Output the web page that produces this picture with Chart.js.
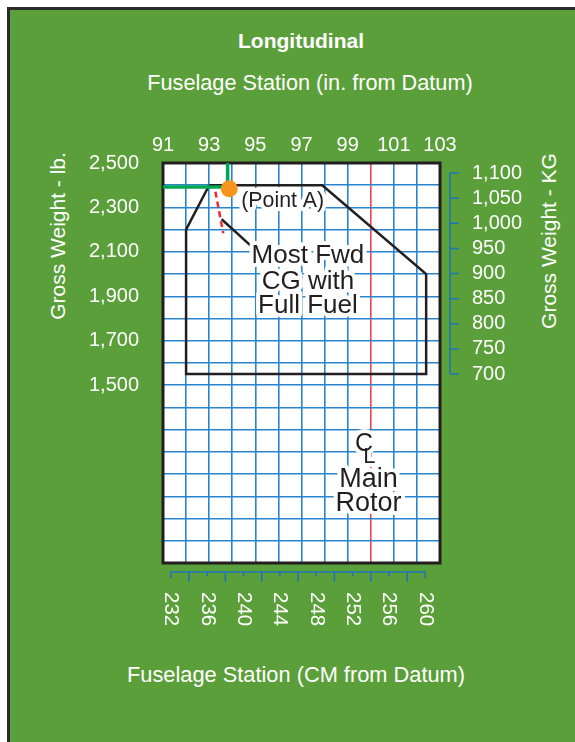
<!DOCTYPE html>
<html>
<head>
<meta charset="utf-8">
<script src="https://cdn.jsdelivr.net/npm/chart.js@4/dist/chart.umd.min.js"></script>
<style>
  html, body { margin: 0; padding: 0; background: #ffffff; }
  body { width: 575px; height: 742px; position: relative; overflow: hidden;
         font-family: 'Liberation Sans', Arial, sans-serif; }
  #panel { position: absolute; left: 7px; top: 7px; right: 0; bottom: 0;
           background: #5b9f3a; border-left: 3px solid #2b2b2b; border-top: 3px solid #2b2b2b; }
  .t { position: absolute; color: #ffffff; white-space: nowrap; line-height: 1;
       transform: translate(-50%, -50%); font-size: 21px; }
  .rot { transform: translate(-50%, -50%) rotate(-90deg); }
  #wrap { position: absolute; left: 0; top: 0; width: 575px; height: 742px; }
</style>
</head>
<body>
<div id="panel"></div>
<div class="t" style="left:301px;top:40px;font-weight:bold;font-size:21px;">Longitudinal</div>
<div class="t" style="left:310px;top:83px;font-size:21.7px;">Fuselage Station (in. from Datum)</div>
<div class="t rot" style="left:57px;top:236px;">Gross Weight - lb.</div>
<div class="t rot" style="left:548px;top:241px;">Gross Weight - KG</div>
<div class="t" style="left:296px;top:675px;font-size:21.8px;">Fuselage Station (CM from Datum)</div>
<div id="wrap"><canvas id="c"></canvas></div>

<script>
// Longitudinal CG envelope - inches on top, pounds left, kg right, cm bottom

// ---- data ----
var ENVELOPE_IN = [93.0, 97.9, 102.4, 102.4, 92.0, 92.0, 93.0];
var ENVELOPE_LB = [2400, 2400, 2000, 1550, 1550, 2200, 2400];

var GREEN_H_IN = [91, 93.85];
var GREEN_H_LB = [2392, 2392];
var GREEN_V_IN = [93.8, 93.8];
var GREEN_V_LB = [2500, 2392];

var POINT_A_IN = [93.87];
var POINT_A_LB = [2384];

var RED_DASH_IN = [93.27, 93.61];
var RED_DASH_LB = [2371, 2184];

var POINTER_IN = [93.54, 94.81];
var POINTER_LB = [2247, 2127];

var ROTOR_CL_IN = 100;

// ---- tick values ----
var TOP_GRID_IN = [91, 92, 93, 94, 95, 96, 97, 98, 99, 100, 101, 102, 103];
var TOP_LABELS_IN = [91, 93, 95, 97, 99, 101, 103];
var LEFT_GRID_LB = [700, 800, 900, 1000, 1100, 1200, 1300, 1400, 1500, 1600, 1700, 1800,
                    1900, 2000, 2100, 2200, 2300, 2400, 2500];
var LEFT_LABELS_LB = [1500, 1700, 1900, 2100, 2300, 2500];
var RIGHT_LABELS_KG = [700, 750, 800, 850, 900, 950, 1000, 1050, 1100];
var BOTTOM_LABELS_CM = [232, 236, 240, 244, 248, 252, 256, 260];
var BOTTOM_MINOR_CM = [234, 238, 242, 246, 250, 254, 258];

// ---- style ----
var GRID_BLUE = '#2a85d0';
var AXIS_BLUE = '#1b75bc';
var CL_RED = '#e8474b';
var FRAME = '#231f20';
var GREEN_LINE = '#00a651';
var ORANGE = '#f7941d';
var FONT = "'Liberation Sans', Arial, sans-serif";

Chart.defaults.font.family = FONT;

function zip(xs, ys) {
  return xs.map(function (x, i) { return { x: x, y: ys[i] }; });
}

function fmt(v) {
  return v.toLocaleString('en-US');
}

function lineSet(xs, ys, color, width, dash) {
  return {
    data: zip(xs, ys),
    borderColor: color,
    borderWidth: width,
    borderDash: dash || [],
    pointRadius: 0,
    fill: false,
    tension: 0,
    xAxisID: 'x',
    yAxisID: 'y'
  };
}

// white fill of plot area + thick frame
var framePlugin = {
  id: 'frame',
  beforeDraw: function (chart) {
    var a = chart.chartArea, ctx = chart.ctx;
    ctx.save();
    ctx.fillStyle = '#ffffff';
    ctx.fillRect(a.left, a.top, a.right - a.left, a.bottom - a.top);
    ctx.restore();
  },
  beforeDatasetsDraw: function (chart) {
    var a = chart.chartArea, ctx = chart.ctx;
    ctx.save();
    ctx.strokeStyle = FRAME;
    ctx.lineWidth = 3;
    ctx.strokeRect(a.left, a.top, a.right - a.left, a.bottom - a.top);
    ctx.restore();
  }
};

// bracket axes (kg right, cm bottom) and the rotated cm labels
var bracketPlugin = {
  id: 'brackets',
  afterDraw: function (chart) {
    var ctx = chart.ctx, a = chart.chartArea;
    var y1 = chart.scales.y1, x2 = chart.scales.x2;
    ctx.save();
    ctx.strokeStyle = AXIS_BLUE;
    ctx.lineWidth = 1.5;

    // right kg bracket
    var bx = a.right + 10;
    ctx.beginPath();
    ctx.moveTo(bx, y1.getPixelForValue(RIGHT_LABELS_KG[0]));
    ctx.lineTo(bx, y1.getPixelForValue(RIGHT_LABELS_KG[RIGHT_LABELS_KG.length - 1]));
    RIGHT_LABELS_KG.forEach(function (v) {
      var py = y1.getPixelForValue(v);
      ctx.moveTo(bx, py);
      ctx.lineTo(bx + 9, py);
    });
    ctx.stroke();

    // bottom cm bracket
    var by = a.bottom + 9;
    ctx.beginPath();
    ctx.moveTo(x2.getPixelForValue(BOTTOM_LABELS_CM[0]), by);
    ctx.lineTo(x2.getPixelForValue(BOTTOM_LABELS_CM[BOTTOM_LABELS_CM.length - 1]), by);
    BOTTOM_LABELS_CM.forEach(function (v, i) {
      var px = x2.getPixelForValue(v);
      var len = (i === 0 || i === BOTTOM_LABELS_CM.length - 1) ? 6 : 4;
      ctx.moveTo(px, by);
      ctx.lineTo(px, by + len);
    });
    BOTTOM_MINOR_CM.forEach(function (v) {
      var px = x2.getPixelForValue(v);
      ctx.moveTo(px, by);
      ctx.lineTo(px, by + 10);
    });
    ctx.stroke();

    // cm labels read top to bottom
    ctx.fillStyle = '#ffffff';
    ctx.font = '20.5px ' + FONT;
    ctx.textAlign = 'left';
    ctx.textBaseline = 'middle';
    BOTTOM_LABELS_CM.forEach(function (v) {
      ctx.save();
      ctx.translate(x2.getPixelForValue(v), by + 20);
      ctx.rotate(Math.PI / 2);
      ctx.fillText(String(v), 0, 0);
      ctx.restore();
    });
    ctx.restore();
  }
};

// annotations with a white halo over the grid (y given at the text baseline)
// items: [text, x, y, size, align]; halos first, then the fills
function haloTexts(ctx, items) {
  ctx.textBaseline = 'alphabetic';
  ctx.lineJoin = 'round';
  ctx.strokeStyle = '#ffffff';
  ctx.lineWidth = 8;
  items.forEach(function (it) {
    ctx.font = it[3] + 'px ' + FONT;
    ctx.textAlign = it[4] || 'center';
    ctx.strokeText(it[0], it[1], it[2]);
  });
  ctx.fillStyle = FRAME;
  items.forEach(function (it) {
    ctx.font = it[3] + 'px ' + FONT;
    ctx.textAlign = it[4] || 'center';
    ctx.fillText(it[0], it[1], it[2]);
  });
}

var notePlugin = {
  id: 'notes',
  afterDatasetsDraw: function (chart) {
    var ctx = chart.ctx, xs = chart.scales.x, ys = chart.scales.y;
    var mx = xs.getPixelForValue(97.28);
    var rx = xs.getPixelForValue(99.9);
    ctx.save();
    haloTexts(ctx, [
      ['(Point A)', xs.getPixelForValue(94.39), ys.getPixelForValue(2301), 21.3, 'left'],
      ['Most Fwd', mx, ys.getPixelForValue(2049), 26],
      ['CG with', mx, ys.getPixelForValue(1934), 26],
      ['Full Fuel', mx, ys.getPixelForValue(1824), 26],
      ['C', xs.getPixelForValue(99.32), ys.getPixelForValue(1202), 25, 'left'],
      ['L', xs.getPixelForValue(99.68), ys.getPixelForValue(1150), 22, 'left'],
      ['Main', rx, ys.getPixelForValue(1040), 27],
      ['Rotor', rx, ys.getPixelForValue(932), 27]
    ]);
    ctx.restore();
  }
};

var tickFont = { size: 20 };

new Chart(document.getElementById('c'), {
  type: 'line',
  data: {
    datasets: [
      {
        data: zip(POINT_A_IN, POINT_A_LB),
        showLine: false,
        pointRadius: 8.5,
        pointBackgroundColor: ORANGE,
        pointBorderWidth: 0,
        order: -1,
        xAxisID: 'x',
        yAxisID: 'y'
      },
      lineSet(GREEN_H_IN, GREEN_H_LB, GREEN_LINE, 3.5),
      lineSet(GREEN_V_IN, GREEN_V_LB, GREEN_LINE, 3.5),
      lineSet(ENVELOPE_IN, ENVELOPE_LB, FRAME, 2.5),
      lineSet(RED_DASH_IN, RED_DASH_LB, '#ee2a2e', 2.5, [6, 4]),
      lineSet(POINTER_IN, POINTER_LB, FRAME, 2.5)
    ]
  },
  options: {
    animation: false,
    responsive: true,
    maintainAspectRatio: false,
    parsing: false,
    layout: { padding: 0 },
    events: [],
    plugins: { legend: { display: false }, tooltip: { enabled: false } },
    scales: {
      x: {
        type: 'linear',
        position: 'top',
        min: 91,
        max: 103,
        afterBuildTicks: function (s) { s.ticks = TOP_GRID_IN.map(function (v) { return { value: v }; }); },
        afterFit: function (s) { s.height = 163; },
        ticks: {
          color: '#ffffff',
          font: tickFont,
          padding: 6,
          autoSkip: false,
          maxRotation: 0,
          callback: function (v) { return TOP_LABELS_IN.indexOf(v) >= 0 ? String(v) : ''; }
        },
        grid: {
          drawTicks: false,
          lineWidth: 1.6,
          color: function (c) { return c.tick && c.tick.value === ROTOR_CL_IN ? CL_RED : GRID_BLUE; }
        },
        border: { display: false }
      },
      x2: {
        type: 'linear',
        position: 'bottom',
        min: 91 * 2.54,
        max: 103 * 2.54,
        afterFit: function (s) { s.height = 179; },
        ticks: { display: false },
        grid: { display: false, drawTicks: false },
        border: { display: false }
      },
      y: {
        type: 'linear',
        position: 'left',
        min: 700,
        max: 2500,
        afterBuildTicks: function (s) { s.ticks = LEFT_GRID_LB.map(function (v) { return { value: v }; }); },
        afterFit: function (s) { s.width = 163; },
        ticks: {
          color: '#ffffff',
          font: tickFont,
          padding: 24,
          autoSkip: false,
          callback: function (v) { return LEFT_LABELS_LB.indexOf(v) >= 0 ? fmt(v) : ''; }
        },
        grid: { drawTicks: false, lineWidth: 1.6, color: GRID_BLUE },
        border: { display: false }
      },
      y1: {
        type: 'linear',
        position: 'right',
        min: 324,
        max: 1120,
        afterBuildTicks: function (s) { s.ticks = RIGHT_LABELS_KG.map(function (v) { return { value: v }; }); },
        afterFit: function (s) { s.width = 135; },
        ticks: {
          color: '#ffffff',
          font: tickFont,
          padding: 32,
          autoSkip: false,
          callback: function (v) { return fmt(v); }
        },
        grid: { display: false, drawTicks: false },
        border: { display: false }
      }
    }
  },
  plugins: [framePlugin, bracketPlugin, notePlugin]
});
</script>
</body>
</html>
